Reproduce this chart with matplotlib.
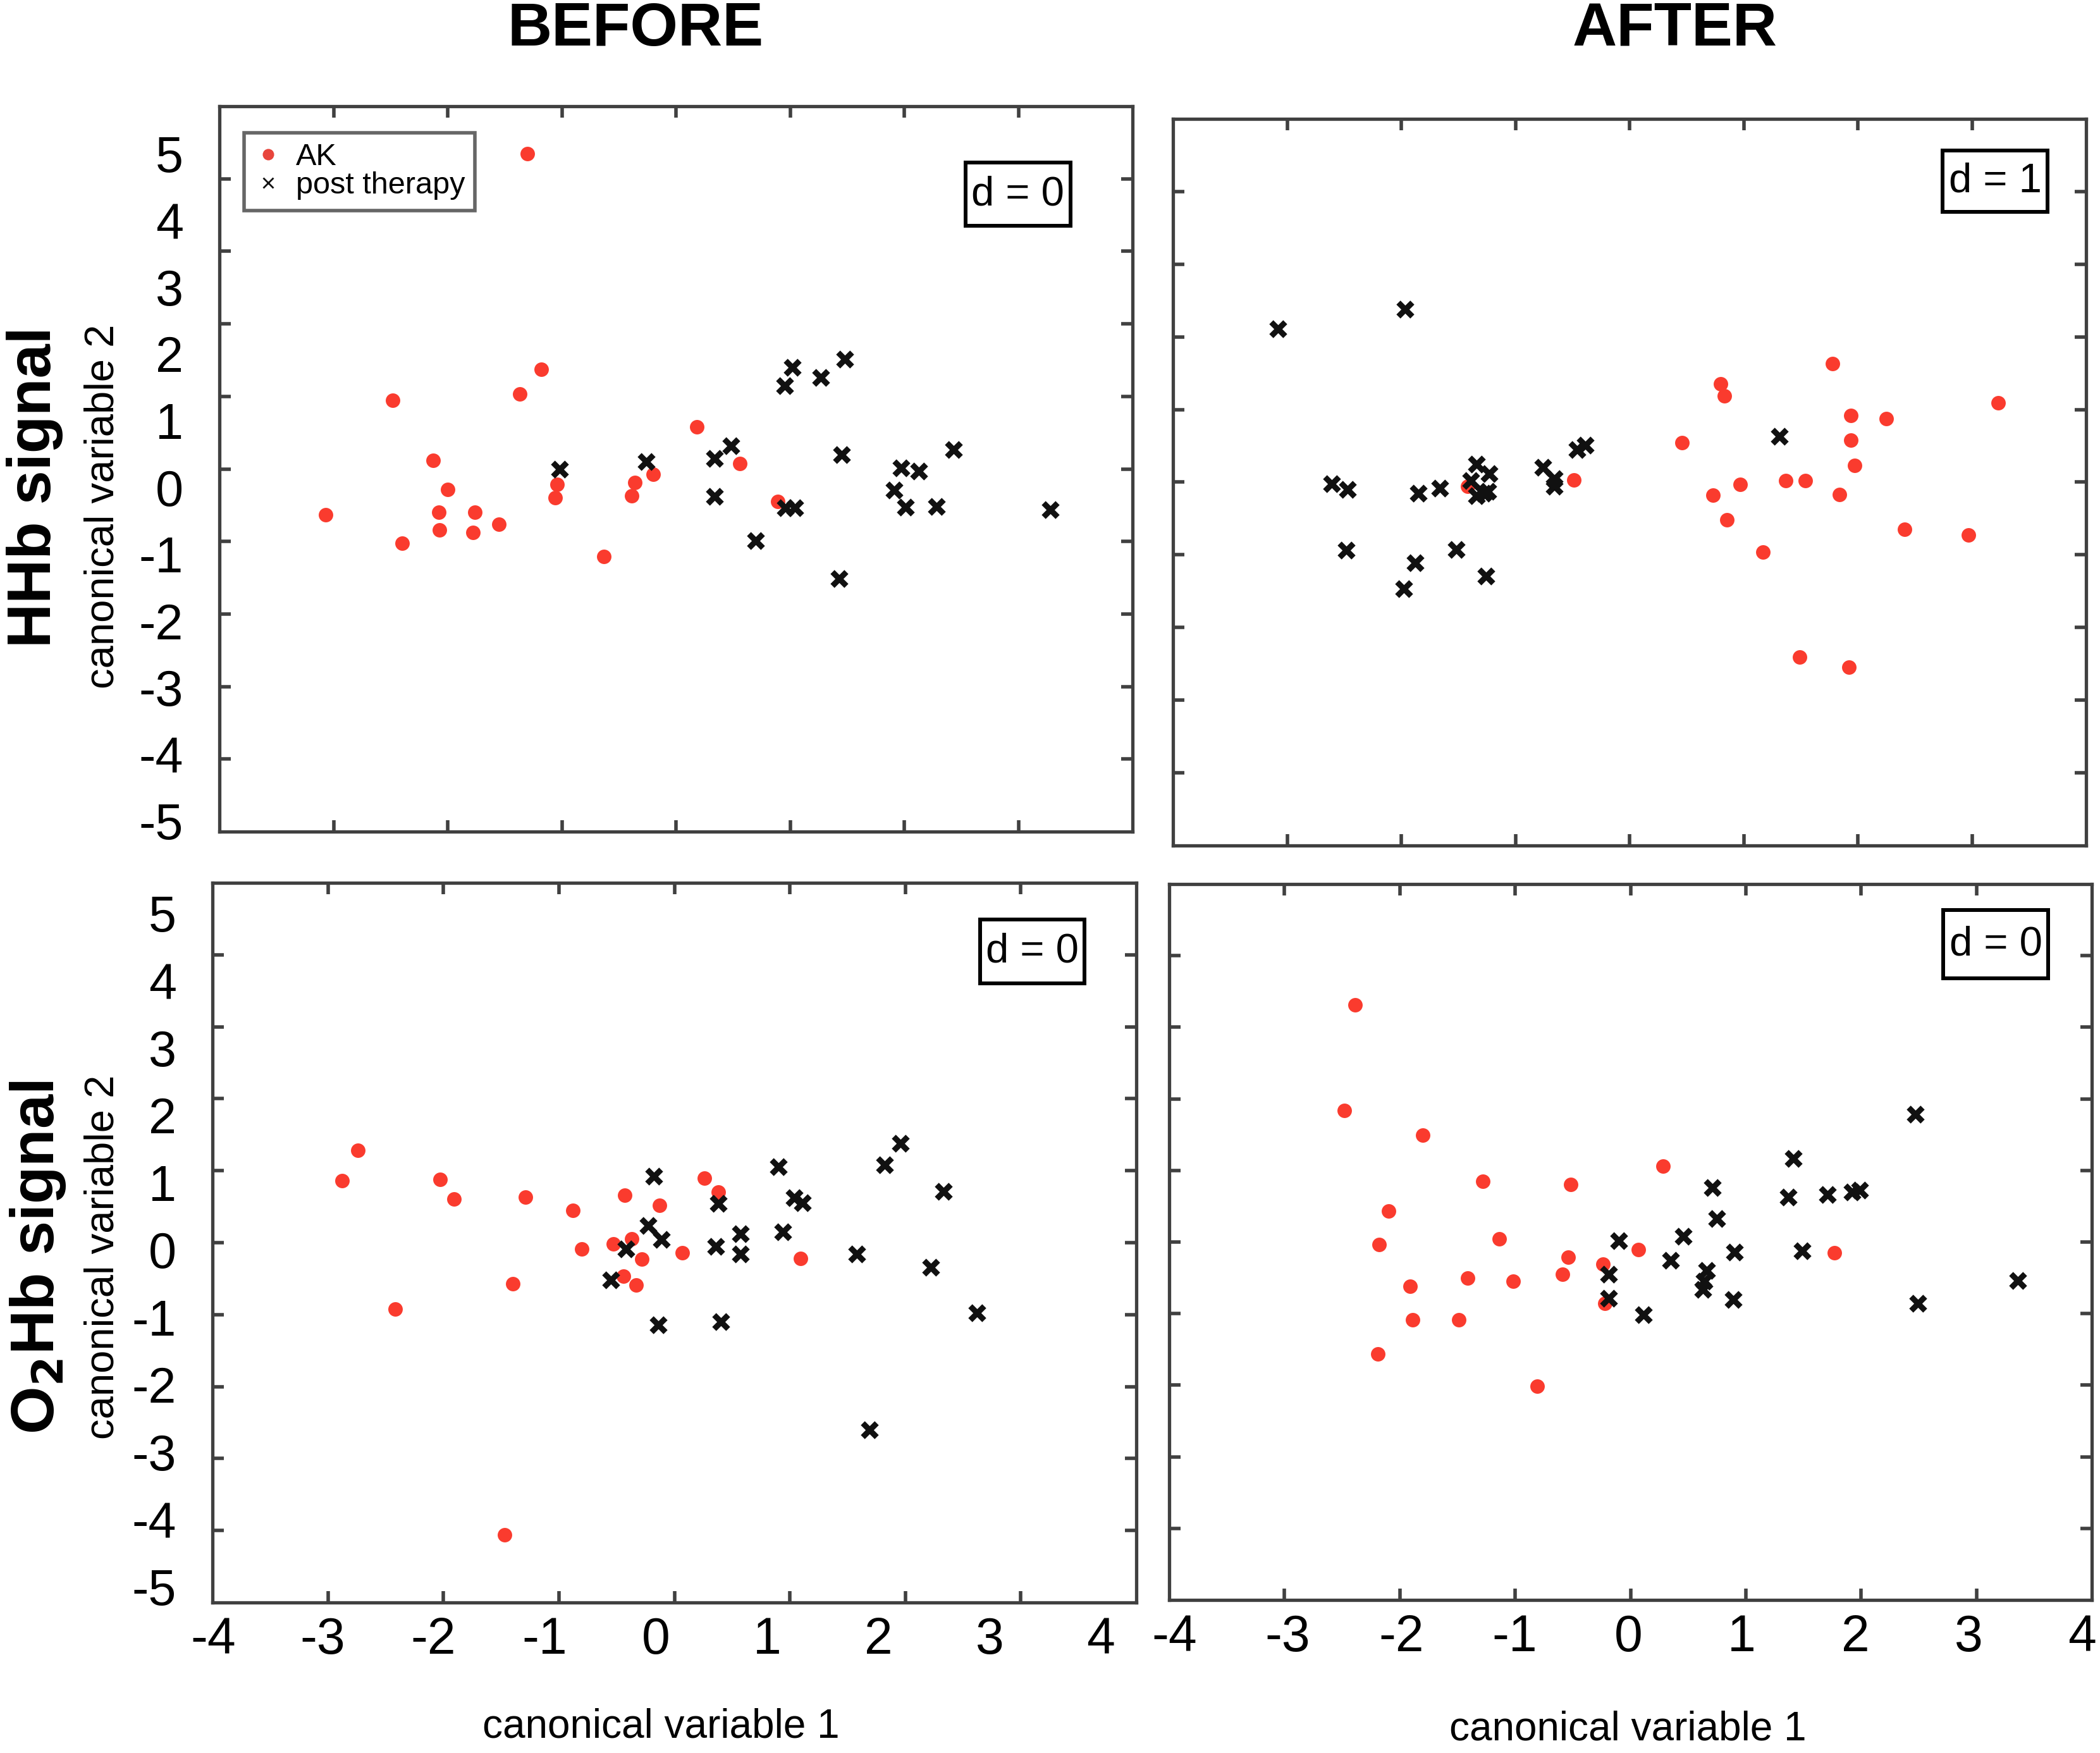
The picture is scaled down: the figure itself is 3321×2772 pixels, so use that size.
import numpy as np
import matplotlib
matplotlib.use("Agg")
from matplotlib import pyplot as plt
from matplotlib.patches import Rectangle

plt.rcParams['font.family'] = ['Liberation Sans', 'DejaVu Sans']
plt.rcParams['axes.unicode_minus'] = False

# ---------------- data ----------------
# HHb signal, before therapy
tl_ak_x = [-3.07, -2.48, -2.40, -2.13, -2.08, -2.07, -2.00, -1.78, -1.76, -1.55, -1.37,
           -1.30, -1.18, -1.06, -1.04, -0.63, -0.39, -0.36, -0.20, 0.18, 0.56, 0.89]
tl_ak_y = [-0.63, 0.95, -1.02, 0.12, -0.60, -0.84, -0.28, -0.88, -0.60, -0.76, 1.03,
           4.35, 1.37, -0.40, -0.21, -1.21, -0.37, -0.19, -0.07, 0.58, 0.07, -0.45]
tl_post_x = [-1.02, -0.26, 0.34, 0.48, 0.34, 0.70, 0.95, 1.02, 1.27, 1.48, 1.45,
             1.43, 0.96, 1.04, 1.91, 1.97, 2.13, 2.01, 2.28, 2.43, 3.28]
tl_post_y = [0.00, 0.10, 0.14, 0.32, -0.38, -0.99, 1.15, 1.40, 1.26, 1.51, 0.20,
             -1.51, -0.54, -0.54, -0.29, 0.01, -0.03, -0.53, -0.52, 0.27, -0.56]

# HHb signal, after therapy
tr_ak_x = [-1.42, -0.49, 0.46, 0.80, 0.83, 0.73, 0.85, 0.97, 1.17, 1.37, 1.54,
           1.49, 1.78, 1.84, 1.94, 1.94, 1.97, 1.92, 2.25, 2.41, 2.97, 3.23]
tr_ak_y = [-0.06, 0.03, 0.54, 1.35, 1.19, -0.18, -0.52, -0.03, -0.96, 0.02, 0.02,
           -2.41, 1.63, -0.17, 0.92, 0.58, 0.23, -2.55, 0.87, -0.65, -0.73, 1.09]
tr_post_x = [-3.08, -1.97, -2.61, -2.47, -2.48, -1.85, -1.66, -1.88, -1.98, -1.52, -1.26,
             -1.34, -1.39, -1.23, -1.34, -1.28, -1.24, -0.76, -0.66, -0.66, -0.46, -0.39, 1.31]
tr_post_y = [2.11, 2.38, -0.02, -0.10, -0.94, -0.15, -0.08, -1.11, -1.47, -0.93, -1.29,
             0.25, 0.02, 0.12, -0.19, -0.15, -0.13, 0.20, 0.05, -0.06, 0.45, 0.51, 0.63]

# O2Hb signal, before therapy
bl_ak_x = [-2.88, -2.74, -2.42, -2.03, -1.91, -1.40, -1.29, -1.47, -0.88, -0.80, -0.53,
           -0.43, -0.44, -0.37, -0.33, -0.28, -0.13, 0.07, 0.26, 0.38, 1.09]
bl_ak_y = [0.86, 1.28, -0.92, 0.88, 0.61, -0.57, 0.63, -4.06, 0.45, -0.09, -0.02,
           0.66, -0.47, 0.05, -0.59, -0.23, 0.52, -0.14, 0.90, 0.70, -0.22]
bl_post_x = [-0.55, -0.42, -0.18, -0.23, -0.11, -0.14, 0.38, 0.36, 0.57, 0.57, 0.40,
             0.90, 0.94, 1.04, 1.11, 1.58, 1.69, 1.82, 1.96, 2.33, 2.22, 2.62]
bl_post_y = [-0.52, -0.09, 0.92, 0.24, 0.04, -1.14, 0.54, -0.05, 0.12, -0.16, -1.10,
             1.05, 0.15, 0.62, 0.55, -0.16, -2.60, 1.08, 1.38, 0.71, -0.34, -0.98]

# O2Hb signal, after therapy
br_ak_x = [-2.39, -2.48, -1.80, -2.10, -2.18, -1.91, -1.89, -2.19, -1.49, -1.41, -1.28,
           -1.14, -1.02, -0.81, -0.59, -0.54, -0.52, -0.24, -0.22, 0.07, 0.28, 1.77]
br_ak_y = [3.31, 1.84, 1.49, 0.43, -0.04, -0.62, -1.09, -1.56, -1.09, -0.50, 0.85,
           0.04, -0.55, -2.01, -0.45, -0.21, 0.80, -0.31, -0.86, -0.11, 1.06, -0.15]
br_post_x = [-0.10, -0.19, -0.19, 0.11, 0.35, 0.46, 0.63, 0.64, 0.66, 0.71, 0.75,
             0.90, 0.89, 1.37, 1.41, 1.49, 1.71, 1.92, 1.99, 2.47, 2.49, 3.36]
br_post_y = [0.02, -0.45, -0.79, -1.02, -0.26, 0.08, -0.66, -0.55, -0.40, 0.76, 0.33,
             -0.14, -0.80, 0.63, 1.17, -0.12, 0.66, 0.70, 0.72, 1.78, -0.86, -0.54]

x_ticks = [-4, -3, -2, -1, 0, 1, 2, 3, 4]
y_ticks = [-5, -4, -3, -2, -1, 0, 1, 2, 3, 4, 5]
d_labels = ['d = 0', 'd = 1', 'd = 0', 'd = 0']

RED = '#fa3b2e'
FRAME = '#404040'

#############################################################################################
# FIGURE
#############################################################################################
W, H = 3321, 2772
f = plt.figure(figsize=(W / 100, H / 100), dpi=100)

# axes rectangles [left, bottom, width, height] in figure fractions
rects = [[0.1045, 0.5256, 0.4348, 0.4138],
         [0.5586, 0.5177, 0.4348, 0.4145],
         [0.1012, 0.0859, 0.4399, 0.4105],
         [0.5568, 0.0873, 0.4393, 0.4084]]
# "d = .." boxes: (x0, x1, y0, y1) in axes fractions
dboxes = [(0.817, 0.932, 0.835, 0.922),
          (0.843, 0.958, 0.872, 0.956),
          (0.831, 0.944, 0.860, 0.949),
          (0.839, 0.953, 0.868, 0.964)]
series = [(tl_ak_x, tl_ak_y, tl_post_x, tl_post_y),
          (tr_ak_x, tr_ak_y, tr_post_x, tr_post_y),
          (bl_ak_x, bl_ak_y, bl_post_x, bl_post_y),
          (br_ak_x, br_ak_y, br_post_x, br_post_y)]

# the tick labels in the original were pasted in slightly squeezed, not exactly
# on the tick marks: label position = a*value + b  (None = no labels)
ylab_map = [(0.92, -0.253), None, (0.936, -0.10), None]
xlab_map = [None, None, (0.963, -0.16), (0.984, -0.02)]

axes = []
for i, r in enumerate(rects):
    ax = f.add_axes(r)
    akx, aky, px, py = series[i]
    ax.plot(akx, aky, 'o', color=RED, ms=16.5, mec='none', label='AK')
    ax.plot(px, py, 'x', color='#111111', ms=16.5, mew=6.5, label='post therapy')

    ax.set_xlim(-4, 4)
    ax.set_ylim(-5, 5)
    ax.xaxis.remove_overlapping_locs = False
    ax.yaxis.remove_overlapping_locs = False
    # tick marks (minor) on all four sides
    ax.set_xticks(x_ticks[1:-1], minor=True)
    ax.set_yticks(y_ticks[1:-1], minor=True)
    ax.tick_params(which='minor', direction='in', length=13, width=4, color=FRAME,
                   top=True, right=True, bottom=True, left=True)
    ax.tick_params(which='major', length=0)
    for s in ax.spines.values():
        s.set_linewidth(3.8)
        s.set_color(FRAME)

    # tick labels (major ticks without marks)
    if ylab_map[i] is not None:
        a, b = ylab_map[i]
        pos = [min(max(a * v + b, -4.995), 4.995) for v in y_ticks]
        ax.set_yticks(pos, [str(v) for v in y_ticks])
        ax.tick_params(axis='y', which='major', labelsize=57, pad=41)
    else:
        ax.set_yticks([])
    if xlab_map[i] is not None:
        a, b = xlab_map[i]
        pos = [min(max(a * v + b, -3.995), 3.995) for v in x_ticks]
        ax.set_xticks(pos, [str(v) for v in x_ticks])
        ax.tick_params(axis='x', which='major', labelsize=58, pad=16)
    else:
        ax.set_xticks([])

    x0, x1, y0, y1 = dboxes[i]
    ax.add_patch(Rectangle((x0, y0), x1 - x0, y1 - y0, transform=ax.transAxes,
                           fc='white', ec='black', lw=4.3, zorder=5))
    ax.text((x0 + x1) / 2, (y0 + y1) / 2, d_labels[i], transform=ax.transAxes,
            ha='center', va='center', fontsize=47, zorder=6)
    axes.append(ax)

# legend in the first panel
ax = axes[0]
h1, = ax.plot([], [], 'o', color='#e8453c', ms=13, mec='none')
h2, = ax.plot([], [], 'x', color='#111111', ms=12, mew=2)
leg = ax.legend([h1, h2], ['AK', 'post therapy'], loc='upper left',
                bbox_to_anchor=(0.027, 0.963), fontsize=35, frameon=True, fancybox=False,
                handlelength=0.9, handletextpad=0.45, labelspacing=0.0, borderpad=0.33,
                borderaxespad=0.0)
leg.get_frame().set_edgecolor(FRAME)
leg.get_frame().set_linewidth(4.0)

# column titles
f.text(1005 / W, 1 - 47 / H, 'BEFORE', ha='center', va='center', fontsize=70, fontweight='bold')
f.text(2649 / W, 1 - 46 / H, 'AFTER', ha='center', va='center', fontsize=70, fontweight='bold')

# row labels
f.text(55 / W, 1 - 770 / H, 'HHb signal', rotation=90, ha='center', va='center',
       fontsize=70, fontweight='bold')
f.text(60 / W, 1 - 1988 / H, r'O$_\mathbf{2}$Hb signal', rotation=90, ha='center', va='center',
       fontsize=70, fontweight='bold')

# axis labels
f.text(163 / W, 1 - 801 / H, 'canonical variable 2', rotation=90, ha='center', va='center',
       fontsize=47)
f.text(163 / W, 1 - 1988 / H, 'canonical variable 2', rotation=90, ha='center', va='center',
       fontsize=47)
f.text(1045 / W, 1 - 2730 / H, 'canonical variable 1', ha='center', va='center', fontsize=46)
f.text(2574 / W, 1 - 2734 / H, 'canonical variable 1', ha='center', va='center', fontsize=46)

plt.savefig('out.png', dpi=100)
